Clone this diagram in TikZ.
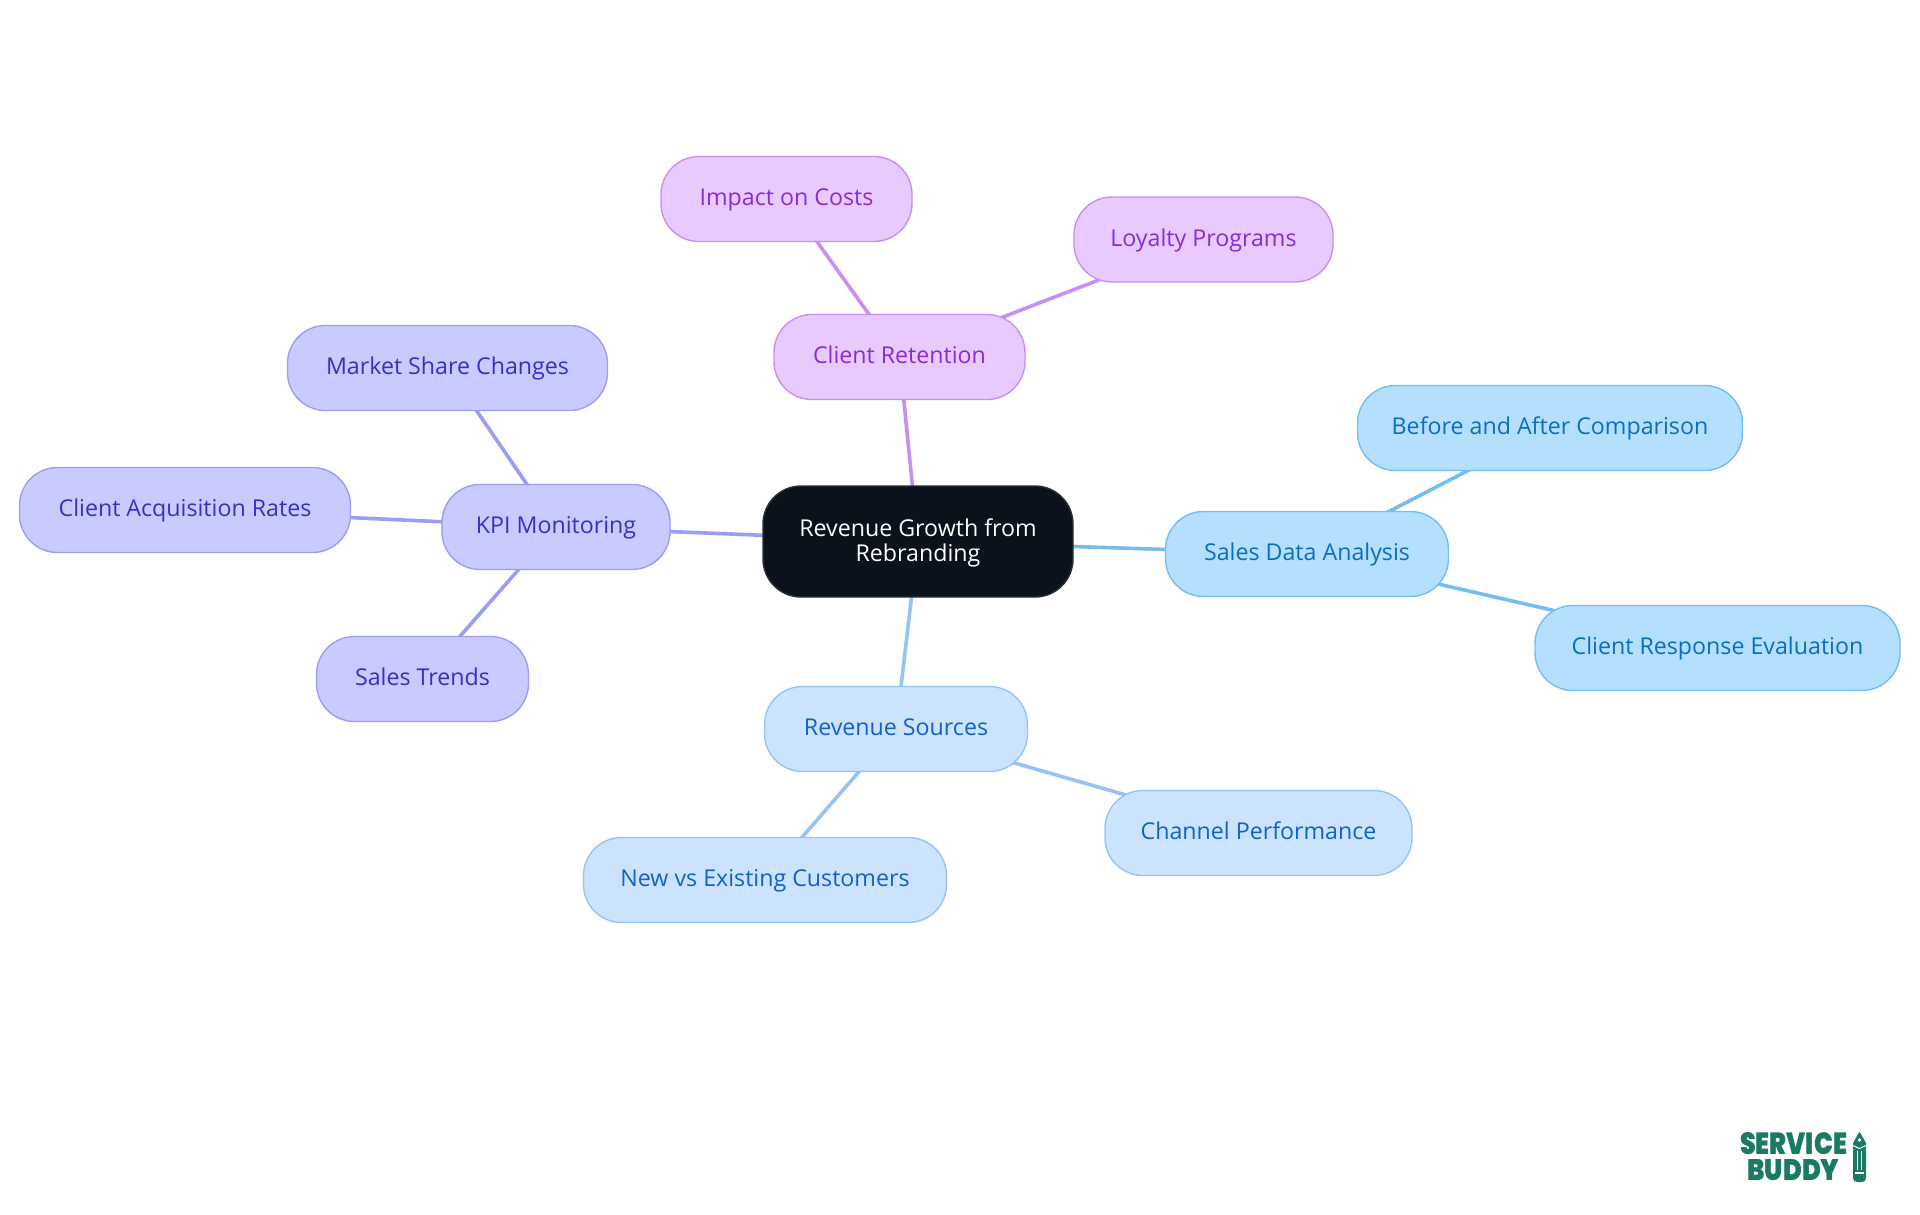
\documentclass[tikz,border=0pt]{standalone}
\usepackage{fontspec}
\setmainfont{Open Sans}
\newfontfamily\logofont{Poppins Black}
\usetikzlibrary{backgrounds}
\definecolor{rootfill}{HTML}{0B121B}
\definecolor{rootline}{HTML}{2A3038}
\definecolor{pfill}{HTML}{E8CAFF}\definecolor{pline}{HTML}{C98FF0}\definecolor{ptext}{HTML}{8A2BD8}
\definecolor{ifill}{HTML}{C9CBFE}\definecolor{iline}{HTML}{9A9CF5}\definecolor{itext}{HTML}{3730C8}
\definecolor{sfill}{HTML}{B5DFFF}\definecolor{sline}{HTML}{74BDF0}\definecolor{stext}{HTML}{0A6FC0}
\definecolor{bfill}{HTML}{CCE3FD}\definecolor{bline}{HTML}{96C3F2}\definecolor{btext}{HTML}{1162CC}
\definecolor{logo}{HTML}{1B7A66}
\tikzset{
 x=1pt,y=-1pt,
 mm/.style={rounded corners=38pt,line width=1.4pt,font=\fontsize{23.2}{25}\selectfont,align=center,inner sep=0pt,anchor=center},
 leaf/.style={mm,minimum height=85pt,text height=19.2pt,text depth=6pt},
 pnode/.style={leaf,draw=pline,fill=pfill,text=ptext},
 inode/.style={leaf,draw=iline,fill=ifill,text=itext},
 snode/.style={leaf,draw=sline,fill=sfill,text=stext},
 bnode/.style={leaf,draw=bline,fill=bfill,text=btext},
 pedge/.style={draw=pline,line width=3.6pt},
 iedge/.style={draw=iline,line width=3.6pt},
 sedge/.style={draw=sline,line width=3.6pt},
 bedge/.style={draw=bline,line width=3.6pt},
 logotext/.style={text=logo,inner sep=0pt,align=center,font=\logofont\fontsize{30}{26}\selectfont},
}
\begin{document}
\begin{tikzpicture}
\useasboundingbox (0,0) rectangle (1920,1215);
\node[mm,draw=rootline,fill=rootfill,text=white,minimum width=310pt,minimum height=111pt] (root) at (918,541.5) {\rule{0pt}{20pt}Revenue Growth from\\Rebranding};
\node[pnode,minimum width=251pt] (cr) at (899.5,357) {Client Retention};
\node[pnode,minimum width=251pt] (cost) at (786.5,199) {Impact on Costs};
\node[pnode,minimum width=259pt] (loy) at (1203.5,239.5) {Loyalty Programs};
\node[inode,minimum width=228pt] (kpi) at (556,527) {KPI Monitoring};
\node[inode,minimum width=320pt] (msc) at (447.5,368) {Market Share Changes};
\node[inode,minimum width=331pt] (car) at (185,510) {Client Acquisition Rates};
\node[inode,minimum width=212pt] (st) at (422.5,679) {Sales Trends};
\node[snode,minimum width=283pt] (sda) at (1307,554) {Sales Data Analysis};
\node[snode,minimum width=385pt] (ba) at (1550,428) {Before and After Comparison};
\node[snode,minimum width=365pt] (cre) at (1717.5,648) {Client Response Evaluation};
\node[bnode,minimum width=263pt] (rs) at (896,729) {Revenue Sources};
\node[bnode,minimum width=307pt] (cp) at (1258.5,833) {Channel Performance};
\node[bnode,minimum width=363pt] (nve) at (765,880) {New vs Existing Customers};
\begin{scope}[on background layer]
\draw[pedge] (root.center) -- (cr.center);
\draw[pedge] (cr.center) -- (cost.center);
\draw[pedge] (cr.center) -- (loy.center);
\draw[iedge] (root.center) -- (kpi.center);
\draw[iedge] (kpi.center) -- (msc.center);
\draw[iedge] (kpi.center) -- (car.center);
\draw[iedge] (kpi.center) -- (st.center);
\draw[sedge] (root.center) -- (sda.center);
\draw[sedge] (sda.center) -- (ba.center);
\draw[sedge] (sda.center) -- (cre.center);
\draw[bedge] (root.center) -- (rs.center);
\draw[bedge] (rs.center) -- (cp.center);
\draw[bedge] (rs.center) -- (nve.center);
\end{scope}
\node[logotext] (logoa) at (1793.5,1157) {\resizebox{107pt}{22pt}{SERVICE}\\\resizebox{92pt}{21pt}{BUDDY}};
\fill[logo,rounded corners=1pt] (1859.5,1131.5) -- (1866,1143) -- (1866,1150) -- (1853,1150) -- (1853,1143) -- cycle;
\fill[logo,rounded corners=4pt] (1853,1147) -- (1866,1147) -- (1866,1182) -- (1853,1182) -- cycle;
\fill[white] (1859.5,1140) circle (1.8pt);
\draw[white,line width=1pt] (1853,1145.5) -- (1859.5,1148.5) -- (1866,1145.5);
\fill[white] (1857,1151) rectangle (1858.2,1170);
\fill[white] (1860.8,1151) rectangle (1862,1170);
\fill[white] (1855,1172) rectangle (1864,1174);
\end{tikzpicture}
\end{document}
